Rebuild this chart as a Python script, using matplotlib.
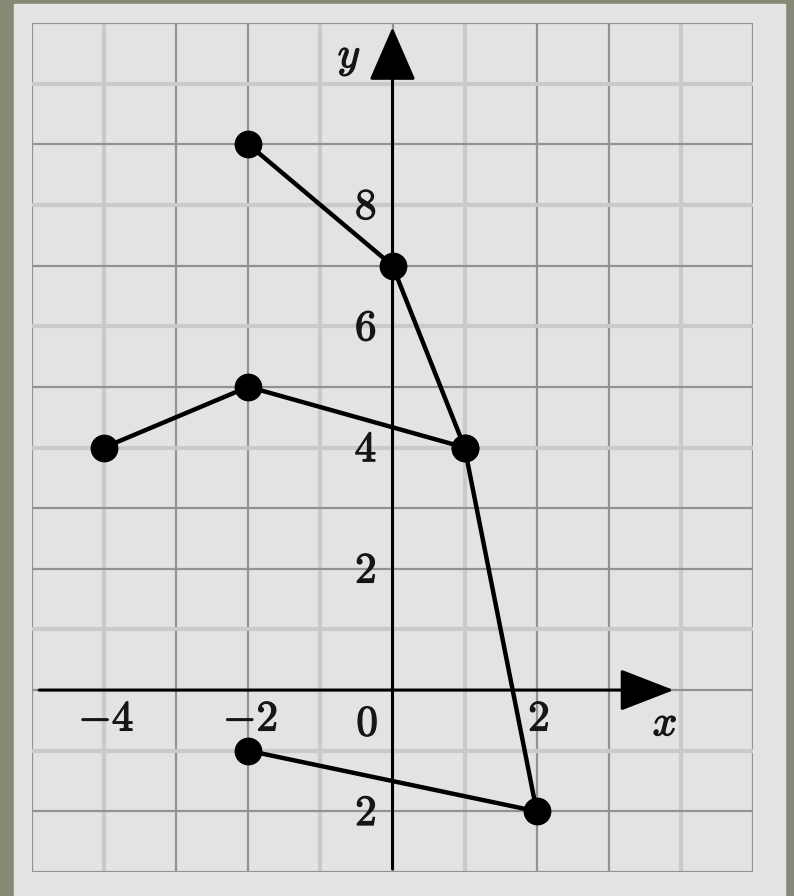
import matplotlib
matplotlib.use("Agg")
import matplotlib.pyplot as plt
import matplotlib.patheffects as pe
from matplotlib.patches import Rectangle

# polyline data
upper_x = [-2, 0, 1, 2, -2]
upper_y = [9, 7, 4, -2, -1]
left_x = [-4, -2, 1]
left_y = [4, 5, 4]

x_tick_vals = [-4, -2, 2]
x_tick_text = [r"$-4$", r"$-2$", r"$2$"]
y_tick_vals = [8, 6, 4, 2, -2]
y_tick_text = [r"$8$", r"$6$", r"$4$", r"$2$", r"$2$"]

plt.rcParams["mathtext.fontset"] = "cm"


def main():
    fig = plt.figure(figsize=(7.94, 8.96), dpi=100)
    fig.patch.set_facecolor("#868975")
    # light slide area
    fig.add_artist(Rectangle((14 / 794, 0), 771 / 794, 892 / 896,
                             transform=fig.transFigure, color="#e3e3e3", zorder=-5))

    ax = fig.add_axes([32 / 794, 24 / 896, 721 / 794, 849 / 896])
    ax.set_facecolor("#e3e3e3")
    ax.set_xlim(-5, 5)
    ax.set_ylim(-3, 11)
    for s in ax.spines.values():
        s.set_visible(False)
    ax.set_xticks([])
    ax.set_yticks([])

    # grid: scanned look, some lines faint
    faint_x = [-4, -1, 1, 4]
    faint_y = [10, 8, 6, 4, 1, -1]
    for gx in range(-5, 6):
        if gx in faint_x:
            ax.axvline(gx, color="#cacaca", lw=3, zorder=1)
        else:
            ax.axvline(gx, color="#929292", lw=1.6, zorder=1)
    for gy in range(-3, 12):
        if gy in faint_y:
            ax.axhline(gy, color="#cacaca", lw=3, zorder=1)
        else:
            ax.axhline(gy, color="#929292", lw=1.6, zorder=1)

    # axes with arrows
    ax.annotate("", xy=(3.9, 0), xytext=(-4.9, 0),
                arrowprops=dict(arrowstyle="-|>,head_length=0.85,head_width=0.33",
                                mutation_scale=40, lw=2.2, color="black",
                                shrinkA=0, shrinkB=0), zorder=3)
    ax.annotate("", xy=(0, 10.93), xytext=(0, -2.95),
                arrowprops=dict(arrowstyle="-|>,head_length=0.85,head_width=0.37",
                                mutation_scale=40, lw=2.2, color="black",
                                shrinkA=0, shrinkB=0), zorder=3)

    # the two polylines
    ax.plot(upper_x, upper_y, color="black", lw=3.2, zorder=4)
    ax.plot(left_x, left_y, color="black", lw=3.2, zorder=4)
    ax.plot(upper_x + left_x, upper_y + left_y, "o", color="black",
            markersize=19, zorder=5)

    # tick labels (slight stroke to mimic the heavier scanned glyphs)
    bold = [pe.withStroke(linewidth=0.9, foreground="#161616")]
    tk = dict(fontsize=31, color="#161616", ha="center", va="center", zorder=6,
              path_effects=bold)
    for v, t in zip(x_tick_vals, x_tick_text):
        ax.text(v + 0.03, -0.47, t, **tk)
    ax.text(-0.35, -0.55, r"$0$", **tk)
    for v, t in zip(y_tick_vals, y_tick_text):
        ax.text(-0.37, v - 0.03, t, **tk)

    ax.text(-0.6, 10.45, r"$y$", **tk)
    ax.text(3.78, -0.55, r"$x$", **tk)

    fig.savefig("out.png", dpi=100, facecolor=fig.get_facecolor())


if __name__ == "__main__":
    main()
